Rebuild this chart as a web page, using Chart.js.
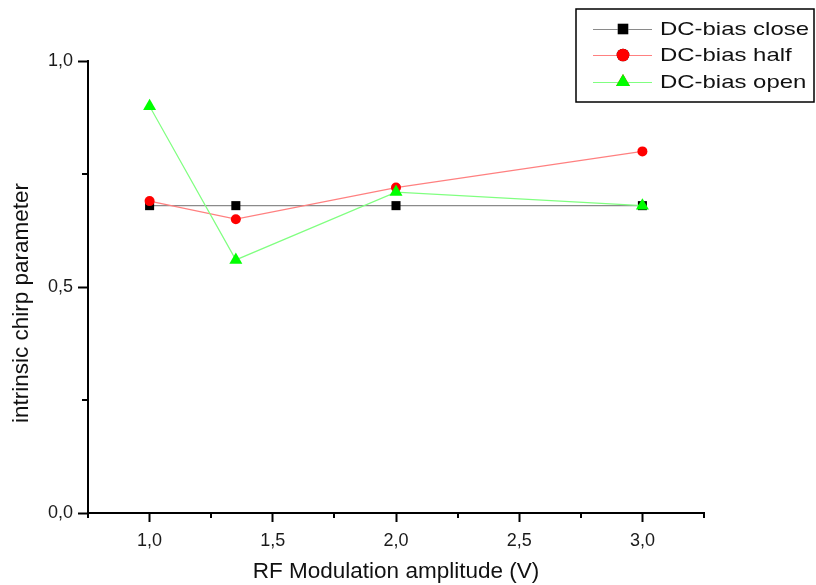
<!DOCTYPE html>
<html>
<head>
<meta charset="utf-8">
<script src="https://cdn.jsdelivr.net/npm/chart.js@4/dist/chart.umd.min.js"></script>
<style>
  html, body { margin: 0; padding: 0; background: #fff; }
  #wrap { width: 816px; height: 585px; position: relative; }
</style>
</head>
<body>
<div id="wrap"><canvas id="chart"></canvas></div>
<script>
// data
const xValues = [1.0, 1.35, 2.0, 3.0];
const closeValues = [0.68, 0.68, 0.68, 0.68];
const halfValues = [0.69, 0.65, 0.72, 0.80];
const openValues = [0.90, 0.56, 0.71, 0.68];
const seriesLabels = ["DC-bias close", "DC-bias half", "DC-bias open"];
const xTitle = "RF Modulation amplitude (V)";
const yTitle = "intrinsic chirp parameter";

const toPoints = (ys) => xValues.map((x, i) => ({ x: x, y: ys[i] }));
const isMajor = (v) => Math.abs(v * 2 - Math.round(v * 2)) < 1e-9;
const fmt = (v) => v.toFixed(1).replace(".", ",");

// minor ticks are shorter than the major ones, so draw them here
const minorTicks = {
  id: "minorTicks",
  afterDraw(chart) {
    const { ctx, chartArea } = chart;
    const xs = chart.scales.x, ys = chart.scales.y;
    ctx.save();
    ctx.strokeStyle = "#000";
    ctx.lineWidth = 2;
    xs.ticks.forEach(t => {
      if (isMajor(t.value)) return;
      const px = Math.round(xs.getPixelForValue(t.value));
      ctx.beginPath();
      ctx.moveTo(px, chartArea.bottom);
      ctx.lineTo(px, chartArea.bottom + 5);
      ctx.stroke();
    });
    ys.ticks.forEach(t => {
      if (isMajor(t.value)) return;
      const py = Math.round(ys.getPixelForValue(t.value));
      ctx.beginPath();
      ctx.moveTo(chartArea.left - 6, py);
      ctx.lineTo(chartArea.left, py);
      ctx.stroke();
    });
    ctx.restore();
  }
};

// y title sits a bit lower than the axis centre in the original
const yTitlePlugin = {
  id: "yTitle",
  afterDraw(chart) {
    const ctx = chart.ctx;
    ctx.save();
    ctx.translate(22, 303);
    ctx.rotate(-Math.PI / 2);
    ctx.font = "22.5px Arial, 'Liberation Sans'";
    ctx.fillStyle = "#111";
    ctx.textAlign = "center";
    ctx.textBaseline = "middle";
    ctx.fillText(yTitle, 0, 0);
    ctx.restore();
  }
};

// boxed legend in the top right corner
const boxLegend = {
  id: "boxLegend",
  afterDraw(chart) {
    const ctx = chart.ctx;
    const bx = 576, by = 9, bw = 238, bh = 93;
    const rows = [29, 55, 82];
    ctx.save();
    ctx.fillStyle = "#fff";
    ctx.fillRect(bx, by, bw, bh);
    ctx.strokeStyle = "#000";
    ctx.lineWidth = 1.5;
    ctx.strokeRect(bx, by, bw, bh);
    chart.data.datasets.forEach((ds, i) => {
      const y = rows[i];
      ctx.strokeStyle = ds.borderColor;
      ctx.lineWidth = 1;
      ctx.beginPath();
      ctx.moveTo(593, y + 0.5);
      ctx.lineTo(652, y + 0.5);
      ctx.stroke();
      Chart.helpers.drawPoint(ctx, {
        pointStyle: ds.pointStyle,
        radius: ds.legendRadius,
        rotation: 0,
        borderWidth: 0
      }, 623, y);
      ctx.fillStyle = ds.pointBackgroundColor;
      ctx.fill();
      ctx.save();
      ctx.translate(660, y);
      ctx.scale(1.26, 1);
      ctx.font = "19px Arial, 'Liberation Sans'";
      ctx.fillStyle = "#111";
      ctx.textBaseline = "middle";
      ctx.fillText(seriesLabels[i], 0, 1);
      ctx.restore();
    });
    ctx.restore();
  }
};

new Chart(document.getElementById("chart").getContext("2d"), {
  type: "scatter",
  data: {
    datasets: [
      {
        label: seriesLabels[0],
        data: toPoints(closeValues),
        showLine: true,
        borderColor: "#8a8a8a",
        borderWidth: 1.2,
        pointStyle: "rect",
        pointRadius: 6.4,
        legendRadius: 7.5,
        pointBackgroundColor: "#000",
        pointBorderWidth: 0,
        order: 3
      },
      {
        label: seriesLabels[1],
        data: toPoints(halfValues),
        showLine: true,
        borderColor: "#ff8080",
        borderWidth: 1.2,
        pointStyle: "circle",
        pointRadius: 5,
        legendRadius: 6.3,
        pointBackgroundColor: "#ff0000",
        pointBorderWidth: 0,
        order: 2
      },
      {
        label: seriesLabels[2],
        data: toPoints(openValues),
        showLine: true,
        borderColor: "#80ff80",
        borderWidth: 1.2,
        pointStyle: "triangle",
        pointRadius: 7.5,
        legendRadius: 8,
        pointBackgroundColor: "#00ff00",
        pointBorderWidth: 0,
        order: 1
      }
    ]
  },
  options: {
    responsive: true,
    maintainAspectRatio: false,
    animation: false,
    layout: { padding: { left: 0, top: 61, right: 112, bottom: 0 } },
    plugins: {
      legend: { display: false },
      tooltip: { enabled: false }
    },
    scales: {
      x: {
        type: "linear",
        min: 0.75,
        max: 3.25,
        afterFit: (s) => { s.height = 72; },
        border: { display: true, color: "#000", width: 2 },
        grid: {
          drawOnChartArea: false,
          tickLength: 9,
          tickWidth: 2,
          tickColor: (c) => (c.tick && isMajor(c.tick.value)) ? "#000" : "rgba(0,0,0,0)"
        },
        ticks: {
          stepSize: 0.25,
          autoSkip: false,
          maxRotation: 0,
          padding: 8,
          color: "#1a1a1a",
          font: { family: "Arial, 'Liberation Sans'", size: 18 },
          callback: (v) => isMajor(v) ? fmt(v) : ""
        },
        title: {
          display: true,
          text: xTitle,
          color: "#111",
          font: { family: "Arial, 'Liberation Sans'", size: 22.5 },
          padding: { top: 0, bottom: 0 }
        }
      },
      y: {
        type: "linear",
        min: 0,
        max: 1,
        afterFit: (s) => { s.width = 88; },
        border: { display: true, color: "#000", width: 2 },
        grid: {
          drawOnChartArea: false,
          tickLength: 10,
          tickWidth: 2,
          tickColor: (c) => (c.tick && isMajor(c.tick.value)) ? "#000" : "rgba(0,0,0,0)"
        },
        ticks: {
          stepSize: 0.25,
          autoSkip: false,
          padding: 5,
          color: "#1a1a1a",
          font: { family: "Arial, 'Liberation Sans'", size: 18 },
          callback: (v) => isMajor(v) ? fmt(v) : ""
        }
      }
    }
  },
  plugins: [minorTicks, yTitlePlugin, boxLegend]
});
</script>
</body>
</html>
